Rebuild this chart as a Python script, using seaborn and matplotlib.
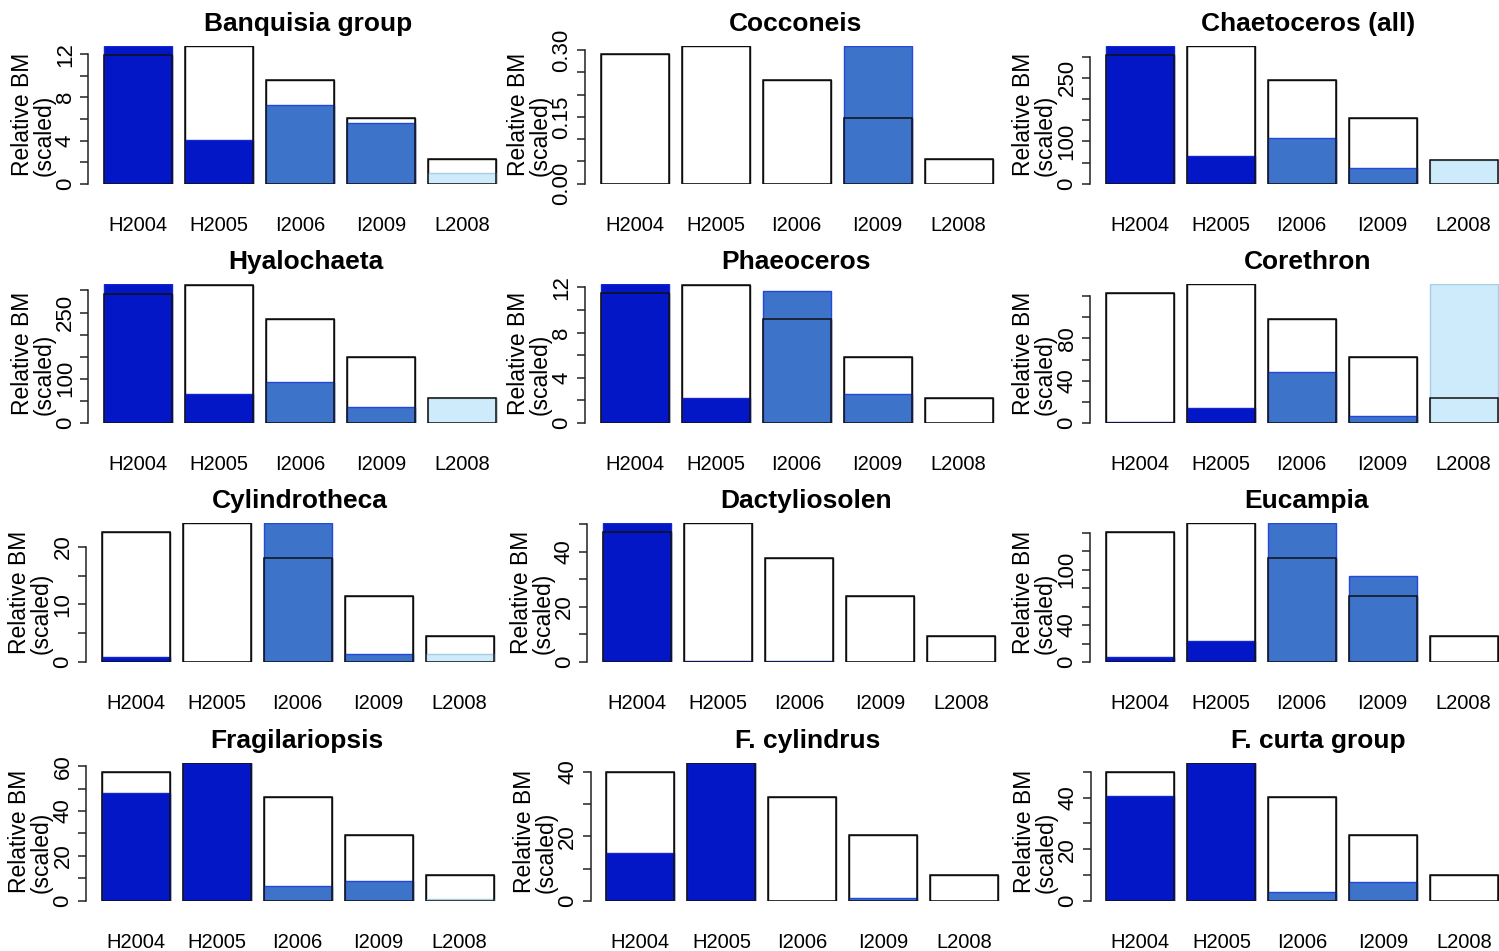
import numpy as np
import pandas as pd
import seaborn as sns
import matplotlib
matplotlib.use("Agg")
import matplotlib.pyplot as plt

# ---------------- data ----------------
sites = ["H2004", "H2005", "I2006", "I2009", "L2008"]

titles = ["Banquisia group", "Cocconeis", "Chaetoceros (all)",
          "Hyalochaeta", "Phaeoceros", "Corethron",
          "Cylindrotheca", "Dactyliosolen", "Eucampia",
          "Fragilariopsis", "F. cylindrus", "F. curta group"]

# white (outlined) bars
banquisia_total = [11.9, 12.75, 9.57, 6.05, 2.28]
cocconeis_total = [0.290, 0.309, 0.233, 0.147, 0.056]
chaetoceros_total = [304, 324, 244, 154, 57]
hyalochaeta_total = [293, 312, 235, 148, 56]
phaeoceros_total = [11.48, 12.22, 9.17, 5.8, 2.19]
corethron_total = [123, 131.4, 98.9, 62.2, 23.6]
cylindrotheca_total = [22.55, 24.06, 18.09, 11.42, 4.52]
dactyliosolen_total = [47.2, 50.4, 37.8, 23.9, 9.45]
eucampia_total = [140.7, 150.1, 112.9, 71.3, 28.2]
fragilariopsis_total = [57.5, 61.4, 46.2, 29.1, 11.3]
fcylindrus_total = [40.0, 42.8, 32.2, 20.3, 7.9]
fcurta_total = [50.0, 53.5, 40.3, 25.4, 9.8]

# coloured bars
banquisia_part = [12.75, 4.07, 7.28, 5.59, 0.96]
cocconeis_part = [0.0, 0.0, 0.0, 0.309, 0.0]
chaetoceros_part = [325, 66, 107, 38, 56]
hyalochaeta_part = [314, 64, 92, 36, 55]
phaeoceros_part = [12.28, 2.19, 11.7, 2.51, 0.0]
corethron_part = [0.5, 14.4, 48.2, 6.7, 131.4]
cylindrotheca_part = [0.93, 0.0, 24.06, 1.39, 1.45]
dactyliosolen_part = [50.4, 0.3, 0.5, 0.0, 0.0]
eucampia_part = [5.8, 22.4, 150.1, 93.3, 0.0]
fragilariopsis_part = [48.1, 61.4, 6.7, 8.9, 0.9]
fcylindrus_part = [14.7, 42.8, 0.0, 0.7, 0.0]
fcurta_part = [40.5, 53.5, 3.2, 7.3, 0.0]

# y-axis ticks and the labels that are shown
banquisia_ticks = [0, 2, 4, 6, 8, 10, 12]
banquisia_labels = ["0", "", "4", "", "8", "", "12"]
cocconeis_ticks = [0, 0.05, 0.10, 0.15, 0.20, 0.25, 0.30]
cocconeis_labels = ["0.00", "", "", "0.15", "", "", "0.30"]
chaetoceros_ticks = [0, 50, 100, 150, 200, 250, 300]
chaetoceros_labels = ["0", "", "100", "", "", "250", ""]
hyalochaeta_ticks = [0, 50, 100, 150, 200, 250, 300]
hyalochaeta_labels = ["0", "", "100", "", "", "250", ""]
phaeoceros_ticks = [0, 2, 4, 6, 8, 10, 12]
phaeoceros_labels = ["0", "", "4", "", "8", "", "12"]
corethron_ticks = [0, 20, 40, 60, 80, 100, 120]
corethron_labels = ["0", "", "40", "", "80", "", ""]
cylindrotheca_ticks = [0, 5, 10, 15, 20]
cylindrotheca_labels = ["0", "", "10", "", "20"]
dactyliosolen_ticks = [0, 10, 20, 30, 40, 50]
dactyliosolen_labels = ["0", "", "20", "", "40", ""]
eucampia_ticks = [0, 20, 40, 60, 80, 100, 120, 140]
eucampia_labels = ["0", "", "40", "", "", "100", "", ""]
fragilariopsis_ticks = [0, 10, 20, 30, 40, 50, 60]
fragilariopsis_labels = ["0", "", "20", "", "40", "", "60"]
fcylindrus_ticks = [0, 10, 20, 30, 40]
fcylindrus_labels = ["0", "", "20", "", "40"]
fcurta_ticks = [0, 10, 20, 30, 40, 50]
fcurta_labels = ["0", "", "20", "", "40", ""]

totals = [banquisia_total, cocconeis_total, chaetoceros_total, hyalochaeta_total,
          phaeoceros_total, corethron_total, cylindrotheca_total, dactyliosolen_total,
          eucampia_total, fragilariopsis_total, fcylindrus_total, fcurta_total]
parts = [banquisia_part, cocconeis_part, chaetoceros_part, hyalochaeta_part,
         phaeoceros_part, corethron_part, cylindrotheca_part, dactyliosolen_part,
         eucampia_part, fragilariopsis_part, fcylindrus_part, fcurta_part]
ticks = [banquisia_ticks, cocconeis_ticks, chaetoceros_ticks, hyalochaeta_ticks,
         phaeoceros_ticks, corethron_ticks, cylindrotheca_ticks, dactyliosolen_ticks,
         eucampia_ticks, fragilariopsis_ticks, fcylindrus_ticks, fcurta_ticks]
tick_labels = [banquisia_labels, cocconeis_labels, chaetoceros_labels, hyalochaeta_labels,
               phaeoceros_labels, corethron_labels, cylindrotheca_labels, dactyliosolen_labels,
               eucampia_labels, fragilariopsis_labels, fcylindrus_labels, fcurta_labels]

# ---------------- style ----------------
fill_colors = {"H2004": "#0317C7", "H2005": "#0317C7",
               "I2006": "#3D73C8", "I2009": "#3D73C8", "L2008": "#CDEBFA"}
edge_colors = {"H2004": "#1426D2", "H2005": "#1426D2",
               "I2006": "#2448DC", "I2009": "#2448DC", "L2008": "#A9CDE2"}

sns.set_theme(style="white")
plt.rcParams["font.family"] = ["Liberation Sans", "DejaVu Sans"]
plt.rcParams.update({"text.color": "black", "axes.labelcolor": "black",
                     "xtick.color": "black", "ytick.color": "black"})

W, H = 1499, 951
fig = plt.figure(figsize=(W / 100, H / 100), dpi=100)

# layout in pixels
axis_left = [88.3, 585, 1090, 88.3, 585, 1090, 86, 587.3, 1090, 86, 590.7, 1090.7]
title_cx = [308, 796, 1308, 305.5, 796, 1307.5, 300, 806, 1307, 296.7, 807.5, 1318]
row_zero = [183.7, 422.7, 662, 900.7]
row_top = [46, 284.3, 523.3, 763]
period_px = 81.0
xlo, xhi = -0.614, 4.614
ax_w = (xhi - xlo) * period_px
bar_w = 0.84

for i in range(12):
    r = i // 3
    left = axis_left[i]
    ax = fig.add_axes([left / W, 1 - row_zero[r] / H, ax_w / W,
                       (row_zero[r] - row_top[r]) / H])
    df = pd.DataFrame({"site": sites, "total": totals[i], "part": parts[i]})

    # white bars
    sns.barplot(data=df, x="site", y="total", ax=ax, color="white",
                edgecolor="black", linewidth=1.0, width=bar_w, saturation=1,
                order=sites)
    n0 = len(ax.patches)
    # coloured bars
    sns.barplot(data=df, x="site", y="part", hue="site", palette=fill_colors,
                ax=ax, width=bar_w, saturation=1, order=sites, hue_order=sites,
                legend=False, dodge=False, linewidth=1.0)
    for p in ax.patches[n0:]:
        k = int(round(p.get_x() + p.get_width() / 2))
        p.set_edgecolor(edge_colors[sites[k]])
    # outlines of white bars on top
    sns.barplot(data=df, x="site", y="total", ax=ax, color="black",
                fill=False, linewidth=1.1, width=bar_w, order=sites)
    for p in ax.patches[2 * n0:]:
        p.set_edgecolor("#111111")
        p.set_facecolor("none")

    ymax = max(max(totals[i]), max(parts[i]))
    ax.set_xlim(xlo, xhi)
    ax.set_ylim(0, ymax)
    ax.set_yticks(ticks[i])
    ax.set_yticklabels(tick_labels[i])
    for sp in ["top", "right", "bottom"]:
        ax.spines[sp].set_visible(False)
    ax.spines["left"].set_bounds(0, ticks[i][-1])
    ax.spines["left"].set_color("#222222")
    ax.spines["left"].set_linewidth(1.1)
    ax.tick_params(axis="y", which="major", left=True, length=6, width=1.1,
                   color="#222222", labelsize=16, labelrotation=90, pad=3)
    for t in ax.get_yticklabels():
        t.set_verticalalignment("center")
    ax.tick_params(axis="x", length=0, pad=23, labelsize=14.5)
    ax.set_xlabel("")
    ax.set_ylabel("Relative BM\n(scaled)", fontsize=16.5, multialignment="left",
                  linespacing=0.92)
    ax.yaxis.set_label_coords(-33 / ax_w, 0.5)
    ax.set_title(titles[i], fontsize=19, fontweight="bold", pad=11,
                 x=(title_cx[i] - left) / ax_w)
    ax.set_facecolor("none")
    ax.grid(False)

fig.savefig("out.png", dpi=100, facecolor="white")
